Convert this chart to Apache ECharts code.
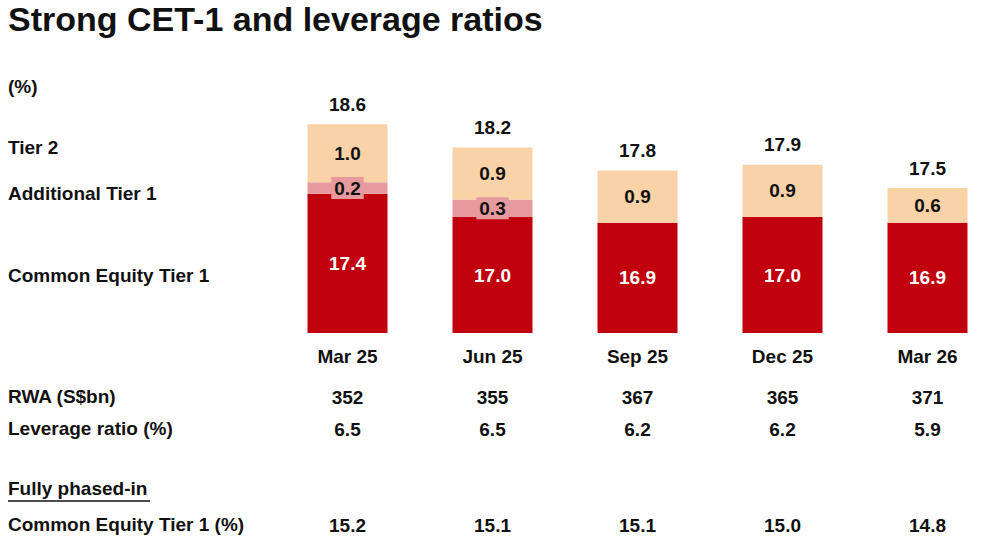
<!DOCTYPE html>
<html>
<head>
<meta charset="utf-8">
<script src="https://cdn.jsdelivr.net/npm/echarts@6/dist/echarts.min.js"></script>
<style>
  html, body { margin: 0; padding: 0; background: #fff; }
  #chart { width: 1000px; height: 545px; }
</style>
</head>
<body>
<div id="chart"></div>
<script>
var quarters = ['Mar 25', 'Jun 25', 'Sep 25', 'Dec 25', 'Mar 26'];
var cet1 = [17.4, 17.0, 16.9, 17.0, 16.9];
var at1 = [0.2, 0.3, null, null, null];
var tier2 = [1.0, 0.9, 0.9, 0.9, 0.6];
var rwa = ['352', '355', '367', '365', '371'];
var leverage = ['6.5', '6.5', '6.2', '6.2', '5.9'];
var cet1Full = ['15.2', '15.1', '15.1', '15.0', '14.8'];

(function() {
  var red = '#C0000C';
  var pink = '#E69A9E';
  var peach = '#FAD2A8';
  var ink = '#111';
  var font = '"Liberation Sans", Arial, sans-serif';
  var fs = 19;

  var totals = quarters.map(function(q, i) {
    return Math.round((cet1[i] + (at1[i] || 0) + tier2[i]) * 10) / 10;
  });

  function rowAxis(data, offset) {
    return {
      type: 'category', data: data, position: 'bottom', offset: offset,
      axisLine: { show: false }, axisTick: { show: false },
      axisLabel: { margin: 14, color: ink, fontSize: fs, fontWeight: 'bold', fontFamily: font }
    };
  }

  function leftText(text, y, size) {
    return {
      type: 'text', left: 8, top: y,
      style: { text: text, fill: ink, font: 'bold ' + (size || fs) + 'px ' + font }
    };
  }

  var chart = echarts.init(document.getElementById('chart'), null, { renderer: 'svg' });
  chart.setOption({
    animation: false,
    grid: { left: 275, width: 728, top: 101, bottom: 212 },
    xAxis: [
      rowAxis(quarters, 0),
      rowAxis(rwa, 41),
      rowAxis(leverage, 73),
      rowAxis(cet1Full, 169)
    ],
    yAxis: { type: 'value', min: 15, max: 19, show: false },
    graphic: [
      leftText('Strong CET-1 and leverage ratios', 2, 34),
      leftText('(%)', 77),
      leftText('Tier 2', 138),
      leftText('Additional Tier 1', 184),
      leftText('Common Equity Tier 1', 266),
      leftText('RWA (S$bn)', 387),
      leftText('Leverage ratio (%)', 419),
      leftText('Fully phased-in', 479),
      { type: 'line', shape: { x1: 8, y1: 501, x2: 150, y2: 501 }, style: { stroke: ink, lineWidth: 1.5 } },
      leftText('Common Equity Tier 1 (%)', 515)
    ],
    series: [
      {
        name: 'Common Equity Tier 1', type: 'bar', stack: 'cap', barWidth: 80,
        data: cet1, itemStyle: { color: red },
        label: { show: true, position: 'inside', color: '#fff', fontSize: fs, fontWeight: 'bold', fontFamily: font,
          formatter: function(p) { return p.value.toFixed(1); } }
      },
      {
        name: 'Additional Tier 1', type: 'bar', stack: 'cap', barWidth: 80,
        data: at1, itemStyle: { color: pink },
        label: { show: true, position: 'inside', color: ink, fontSize: fs, fontWeight: 'bold', fontFamily: font,
          backgroundColor: pink, padding: [2, 3, 1, 3],
          formatter: function(p) { return p.value == null ? '' : p.value.toFixed(1); } }
      },
      {
        name: 'Tier 2', type: 'bar', stack: 'cap', barWidth: 80,
        data: tier2, itemStyle: { color: peach },
        label: { show: true, position: 'inside', color: ink, fontSize: fs, fontWeight: 'bold', fontFamily: font,
          formatter: function(p) { return p.value.toFixed(1); } }
      },
      {
        name: 'Total', type: 'line', data: totals, symbol: 'circle', symbolSize: 1,
        itemStyle: { color: 'transparent' }, lineStyle: { opacity: 0 }, z: 5,
        label: { show: true, position: 'top', distance: 10, color: ink, fontSize: fs, fontWeight: 'bold', fontFamily: font,
          formatter: function(p) { return p.value.toFixed(1); } }
      }
    ]
  });

  window.addEventListener('resize', function() { chart.resize(); });
})();
</script>
</body>
</html>
